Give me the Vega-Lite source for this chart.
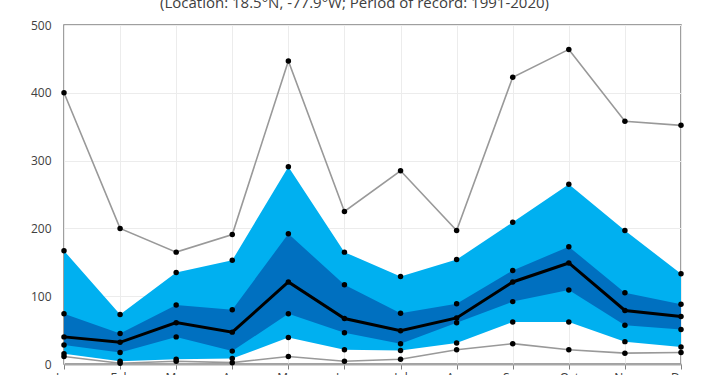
{
  "$schema": "https://vega.github.io/schema/vega-lite/v6.json",
  "width": 617,
  "height": 339,
  "autosize": "none",
  "padding": {"left": 64, "top": 25, "right": 29, "bottom": 11},
  "background": "white",
  "title": {
    "text": "(Location: 18.5°N, -77.9°W; Period of record: 1991-2020)",
    "font": "Open Sans",
    "fontSize": 15,
    "fontWeight": "normal",
    "color": "#404040",
    "anchor": "middle",
    "frame": "group",
    "baseline": "alphabetic",
    "offset": -4,
    "dx": -18
  },
  "config": {
    "view": {"stroke": "#808080", "strokeWidth": 1.5},
    "axis": {
      "labelFont": "Open Sans",
      "labelFontSize": 12,
      "labelColor": "#404040",
      "gridColor": "#ececec",
      "gridWidth": 1,
      "title": null
    }
  },
  "data": {
    "values": [
      {"month": "Jan", "max": 400, "p90": 167, "p75": 74, "median": 40, "p25": 28, "p10": 15, "min": 11},
      {"month": "Feb", "max": 200, "p90": 73, "p75": 45, "median": 32, "p25": 17, "p10": 4, "min": 1},
      {"month": "Mar", "max": 165, "p90": 135, "p75": 87, "median": 61, "p25": 40, "p10": 7, "min": 4},
      {"month": "Apr", "max": 191, "p90": 153, "p75": 80, "median": 47, "p25": 19, "p10": 8, "min": 2},
      {"month": "May", "max": 447, "p90": 291, "p75": 192, "median": 121, "p25": 74, "p10": 39, "min": 11},
      {"month": "Jun", "max": 225, "p90": 165, "p75": 117, "median": 67, "p25": 46, "p10": 21, "min": 4},
      {"month": "Jul", "max": 285, "p90": 129, "p75": 75, "median": 49, "p25": 30, "p10": 20, "min": 7},
      {"month": "Aug", "max": 197, "p90": 154, "p75": 89, "median": 68, "p25": 61, "p10": 31, "min": 21},
      {"month": "Sep", "max": 423, "p90": 209, "p75": 138, "median": 121, "p25": 92, "p10": 62, "min": 30},
      {"month": "Oct", "max": 464, "p90": 265, "p75": 173, "median": 149, "p25": 109, "p10": 62, "min": 21},
      {"month": "Nov", "max": 358, "p90": 197, "p75": 105, "median": 79, "p25": 57, "p10": 33, "min": 16},
      {"month": "Dec", "max": 352, "p90": 133, "p75": 88, "median": 70, "p25": 51, "p10": 25, "min": 17}
    ]
  },
  "encoding": {
    "x": {
      "field": "month",
      "type": "ordinal",
      "sort": null,
      "scale": {"type": "point", "padding": 0},
      "axis": {
        "labelAngle": 0,
        "grid": true,
        "ticks": true,
        "tickColor": "#808080",
        "tickSize": 5,
        "domainColor": "#a6a6a6",
        "domainWidth": 2,
        "labelPadding": 3
      }
    }
  },
  "layer": [
    {
      "mark": {"type": "area", "color": "#00B0F0", "opacity": 1},
      "encoding": {
        "y": {"field": "p90", "type": "quantitative", "scale": {"domain": [0, 500], "nice": false},
          "axis": {"values": [0, 100, 200, 300, 400, 500], "grid": true, "ticks": false, "domain": false, "labelPadding": 13}},
        "y2": {"field": "p10"}
      }
    },
    {
      "mark": {"type": "area", "color": "#0070C0", "opacity": 1},
      "encoding": {
        "y": {"field": "p75", "type": "quantitative"},
        "y2": {"field": "p25"}
      }
    },
    {
      "mark": {"type": "line", "color": "#999999", "strokeWidth": 1.6},
      "encoding": {"y": {"field": "max", "type": "quantitative"}}
    },
    {
      "mark": {"type": "line", "color": "#999999", "strokeWidth": 1.6},
      "encoding": {"y": {"field": "min", "type": "quantitative"}}
    },
    {
      "mark": {"type": "line", "color": "#000000", "strokeWidth": 3},
      "encoding": {"y": {"field": "median", "type": "quantitative"}}
    },
    {
      "transform": [{"fold": ["max", "p90", "p75", "median", "p25", "p10", "min"], "as": ["stat", "value"]}],
      "mark": {"type": "point", "filled": true, "color": "#000000", "size": 30, "opacity": 1},
      "encoding": {"y": {"field": "value", "type": "quantitative"}}
    }
  ]
}
